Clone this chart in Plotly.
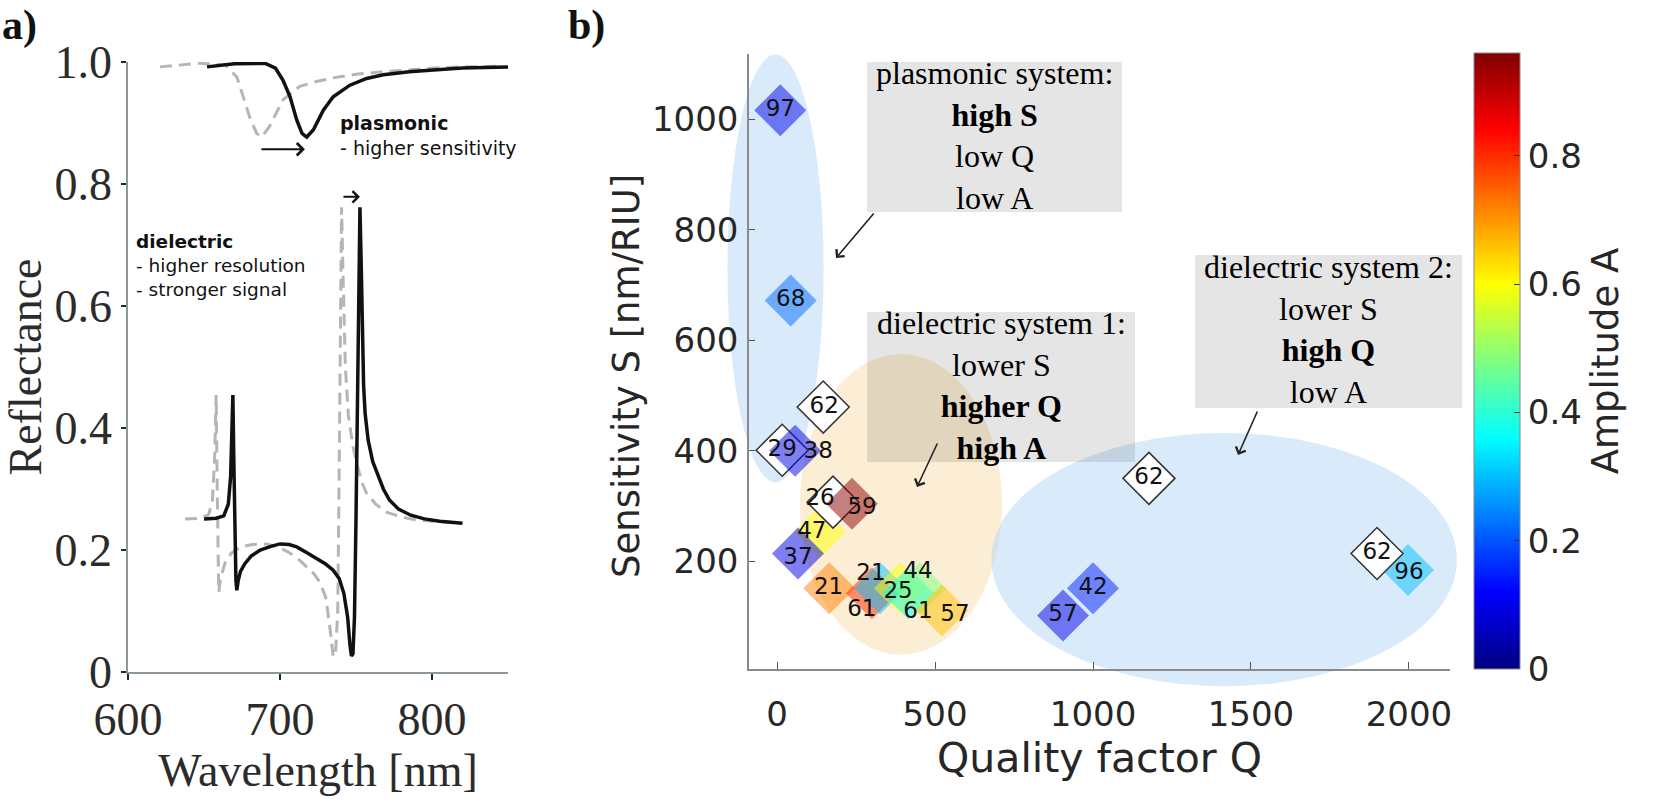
import plotly.graph_objects as go

W, H = 1658, 807

# ---------------- panel a data ----------------
wl_diel_ref = [637.5, 648, 653, 655.5, 657, 658, 658.7, 659.3, 659.7, 661,
               664, 668, 674, 682, 691, 699, 706, 713, 718, 722,
               726, 730, 732.5, 734, 735, 736.5, 738, 739, 740, 740.5,
               741.5, 743, 745, 748, 750.5, 754, 757, 763, 770, 780,
               790, 805, 820]
R_diel_ref = [0.251, 0.252, 0.258, 0.28, 0.35, 0.454, 0.30, 0.18, 0.131, 0.155,
              0.180, 0.195, 0.205, 0.209, 0.210, 0.205, 0.196, 0.183, 0.172, 0.162,
              0.148, 0.123, 0.08, 0.04, 0.025, 0.03, 0.10, 0.35, 0.65, 0.762,
              0.65, 0.50, 0.42, 0.37, 0.342, 0.31, 0.293, 0.275, 0.262, 0.254,
              0.249, 0.246, 0.244]

wl_diel_shift = [650, 658, 663, 666, 667.5, 668.5, 669, 669.6, 670.3, 671,
                 671.6, 672.5, 674, 677, 681, 687, 694, 700, 706, 711,
                 718, 724, 730, 735, 739, 742, 744.5, 746, 747, 748,
                 749, 750, 751, 752, 752.6, 753.5, 755, 756, 758, 761,
                 764, 768, 772, 778, 786, 795, 805, 820]
R_diel_shift = [0.251, 0.252, 0.256, 0.275, 0.32, 0.40, 0.454, 0.35, 0.22, 0.15,
                0.134, 0.15, 0.165, 0.178, 0.19, 0.200, 0.206, 0.210, 0.209, 0.205,
                0.195, 0.186, 0.177, 0.167, 0.153, 0.129, 0.09, 0.045, 0.026, 0.03,
                0.09, 0.25, 0.50, 0.70, 0.762, 0.66, 0.47, 0.424, 0.38, 0.345,
                0.326, 0.30, 0.282, 0.267, 0.257, 0.251, 0.247, 0.244]

wl_plas_ref = [621, 635, 647, 664, 671.7, 675.8, 680, 684.6, 688, 693,
               698, 702, 713, 724, 735, 750, 768, 785, 801, 820, 845]
R_plas_ref = [0.992, 0.995, 0.998, 0.995, 0.975, 0.943, 0.910, 0.883, 0.877, 0.894,
              0.918, 0.938, 0.960, 0.968, 0.974, 0.980, 0.984, 0.987, 0.990, 0.992, 0.993]

wl_plas_shift = [652, 670, 690, 697, 702, 706.6, 711, 714.5, 717.6, 722,
                 728.5, 735, 746, 757, 768, 785, 801, 820, 850]
R_plas_shift = [0.992, 0.997, 0.998, 0.99, 0.970, 0.943, 0.905, 0.883, 0.877, 0.889,
                0.921, 0.943, 0.962, 0.973, 0.979, 0.984, 0.987, 0.990, 0.992]

a_xticks = [600, 700, 800]
a_yticks = [0, 0.2, 0.4, 0.6, 0.8, 1.0]
a_yticklabels = ["0", "0.2", "0.4", "0.6", "0.8", "1.0"]

# ---------------- panel b data ----------------
Q_col = [10, 43, 57, 237, 136, 66, 165, 300, 326, 389, 415, 452, 522, 1000, 905, 1997]
S_col = [1016, 672, 400, 304, 253, 214, 151, 142, 151, 151, 142, 151, 111, 151, 102, 184]
A_col = [0.10, 0.22, 0.10, 0.95, 0.60, 0.10, 0.72, 0.80, 0.30, 0.60, 0.36, 0.48, 0.66, 0.15, 0.10, 0.30]
lab_col = ["97", "68", "38", "59", "47", "37", "21", "61", "21", "25", "61", "44", "57", "42", "57", "96"]
labQ_col = [10, 43, 130, 269, 110, 66, 163, 268, 297, 383, 446, 446, 563, 1000, 905, 2000]
labS_col = [1016, 672, 398, 296, 253, 205, 151, 111, 176, 144, 108, 180, 102, 151, 102, 178]
on_top_idx = [2, 3]  # the "38" and "59" diamonds sit above the white diamonds

Q_white = [146, 16, 177, 1177, 1899]
S_white = [479, 401, 307, 350, 214]
lab_white = ["62", "29", "26", "62", "62"]
labQ_white = [149, 16, 136, 1177, 1899]
labS_white = [479, 401, 312, 350, 214]

b_xticks = [0, 500, 1000, 1500, 2000]
b_yticks = [200, 400, 600, 800, 1000]
cbar_ticks = [0, 0.2, 0.4, 0.6, 0.8]
cbar_ticklabels = ["0", "0.2", "0.4", "0.6", "0.8"]

# ellipses (data units): Q0, Q1, S0, S1
ell_plasmonic = (-157, 147, 343, 1117)
ell_diel1 = (72, 712, 31, 575)
ell_diel2 = (678, 2152, -26, 432)

box_texts = [
    "plasmonic system:<br><b>high S</b><br>low Q<br>low A",
    "dielectric system 1:<br>lower S<br><b>higher Q</b><br><b>high A</b>",
    "dielectric system 2:<br>lower S<br><b>high Q</b><br>low A",
]

# ---------------- layout geometry (pixels) ----------------
A_X0, A_X1, A_Y0, A_Y1 = 128, 508, 62, 672
B_X0, B_X1, B_Y0, B_Y1 = 749, 1450, 54, 669
a_xrange = [600, 850]
a_yrange = [0, 1.0]
b_xrange = [-89, 2130]
b_yrange = [5, 1118]


def px(x):
    return x / W


def py(y):
    return 1 - y / H


bx_dom = [px(B_X0), px(B_X1)]
by_dom = [py(B_Y1), py(B_Y0)]


def q2paper(q):
    return bx_dom[0] + (q - b_xrange[0]) / (b_xrange[1] - b_xrange[0]) * (bx_dom[1] - bx_dom[0])


def s2paper(s):
    return by_dom[0] + (s - b_yrange[0]) / (b_yrange[1] - b_yrange[0]) * (by_dom[1] - by_dom[0])


jet = [[0, "rgb(0,0,128)"], [0.125, "rgb(0,0,255)"], [0.375, "rgb(0,255,255)"],
       [0.625, "rgb(255,255,0)"], [0.875, "rgb(255,0,0)"], [1, "rgb(128,0,0)"]]

SERIF = "Liberation Serif"
SANS = "DejaVu Sans"

fig = go.Figure()

# ---- panel a traces ----
for wl, R in [(wl_plas_ref, R_plas_ref), (wl_diel_ref, R_diel_ref)]:
    fig.add_trace(go.Scatter(x=wl, y=R, mode="lines",
                             line=dict(color="#b5b5b5", width=3, dash="12px,7px"),
                             xaxis="x", yaxis="y", showlegend=False, hoverinfo="skip"))
for wl, R in [(wl_plas_shift, R_plas_shift), (wl_diel_shift, R_diel_shift)]:
    fig.add_trace(go.Scatter(x=wl, y=R, mode="lines",
                             line=dict(color="#111111", width=3.5),
                             xaxis="x", yaxis="y", showlegend=False, hoverinfo="skip"))

# ---- panel b traces ----
low_idx = [i for i in range(len(lab_col)) if i not in on_top_idx]


def col_trace(idx):
    return go.Scatter(
        x=[Q_col[i] for i in idx], y=[S_col[i] for i in idx], mode="markers",
        marker=dict(symbol="diamond", size=40, color=[A_col[i] for i in idx],
                    coloraxis="coloraxis", opacity=0.5, line=dict(width=0)),
        xaxis="x2", yaxis="y2", showlegend=False, hoverinfo="skip", cliponaxis=False)


fig.add_trace(col_trace(low_idx))
fig.add_trace(go.Scatter(
    x=Q_white, y=S_white, mode="markers",
    marker=dict(symbol="diamond", size=40, color="white", line=dict(color="#333333", width=1.5)),
    xaxis="x2", yaxis="y2", showlegend=False, hoverinfo="skip", cliponaxis=False))
fig.add_trace(col_trace(on_top_idx))
fig.add_trace(go.Scatter(
    x=labQ_col + labQ_white, y=labS_col + labS_white, mode="text",
    text=lab_col + lab_white, textposition="middle center",
    textfont=dict(family=SANS, size=23, color="#111111"),
    xaxis="x2", yaxis="y2", showlegend=False, hoverinfo="skip", cliponaxis=False))

# ---- shapes: ellipses and boxes ----
shapes = []
for (q0, q1, s0, s1), fill in [(ell_plasmonic, "rgba(179,213,247,0.5)"),
                               (ell_diel1, "rgba(249,221,169,0.5)"),
                               (ell_diel2, "rgba(179,213,247,0.5)")]:
    shapes.append(dict(type="circle", xref="paper", yref="paper",
                       x0=q2paper(q0), x1=q2paper(q1), y0=s2paper(s0), y1=s2paper(s1),
                       fillcolor=fill, line=dict(width=0), layer="below"))

boxes_px = [(867, 62, 1122, 212), (867, 312, 1135, 462), (1195, 255, 1462, 408)]
for (x0, y0, x1, y1) in boxes_px:
    shapes.append(dict(type="rect", xref="paper", yref="paper",
                       x0=px(x0), x1=px(x1), y0=py(y1), y1=py(y0),
                       fillcolor="rgba(0,0,0,0.10)", line=dict(width=0), layer="below"))

annotations = []
for (x0, y0, x1, y1), t in zip(boxes_px, box_texts):
    annotations.append(dict(xref="paper", yref="paper", x=px((x0 + x1) / 2), y=py((y0 + y1) / 2 - 2),
                            text=t, showarrow=False, align="center",
                            xanchor="center", yanchor="middle",
                            font=dict(family=SERIF, size=32, color="#000000")))

# arrows in panel b: head position (px) and tail offset (px)
arrows_b = [((836, 258), (39, -46)), ((917, 487), (21, -45)), ((1238, 455), (20, -45))]
for (hx, hy), (dx, dy) in arrows_b:
    annotations.append(dict(xref="paper", yref="paper", x=px(hx), y=py(hy), ax=dx, ay=dy,
                            axref="pixel", ayref="pixel", text="", showarrow=True,
                            arrowhead=4, arrowsize=1.3, arrowwidth=1.6, arrowcolor="#222222",
                            standoff=0, startstandoff=0))

# y-axis title of panel b
annotations.append(dict(xref="paper", yref="paper", x=px(626), y=py(376), textangle=-90,
                        xanchor="center", yanchor="middle", showarrow=False,
                        text="Sensitivity S [nm/RIU]",
                        font=dict(family=SANS, size=37, color="#262626")))

# panel a texts and arrows
annotations.append(dict(xref="x", yref="y", x=738, y=0.8795, xanchor="left", yanchor="middle",
                        text="<b>plasmonic</b><br>- higher sensitivity", showarrow=False, align="left",
                        font=dict(family=SANS, size=19, color="#111111")))
annotations.append(dict(xref="x", yref="y", x=604, y=0.6656, xanchor="left", yanchor="middle",
                        text="<b>dielectric</b><br>- higher resolution<br>- stronger signal",
                        showarrow=False, align="left",
                        font=dict(family=SANS, size=18.5, color="#111111")))
annotations.append(dict(xref="x", yref="y", x=716.4, y=0.857, ax=-45, ay=0,
                        axref="pixel", ayref="pixel", text="", showarrow=True,
                        arrowhead=4, arrowsize=1.2, arrowwidth=2, arrowcolor="#111111", standoff=0))
annotations.append(dict(xref="x", yref="y", x=752.6, y=0.779, ax=-18, ay=0,
                        axref="pixel", ayref="pixel", text="", showarrow=True,
                        arrowhead=4, arrowsize=1.1, arrowwidth=2, arrowcolor="#111111", standoff=0))

# panel labels
annotations.append(dict(xref="paper", yref="paper", x=0, y=1.0, xanchor="left", yanchor="top",
                        text="<b>a)</b>", showarrow=False,
                        font=dict(family=SERIF, size=42, color="#111111")))
annotations.append(dict(xref="paper", yref="paper", x=px(566), y=1.0, xanchor="left", yanchor="top",
                        text="<b>b)</b>", showarrow=False,
                        font=dict(family=SERIF, size=42, color="#111111")))

fig.update_layout(
    width=W, height=H,
    margin=dict(l=0, r=0, t=0, b=0),
    paper_bgcolor="white", plot_bgcolor="rgba(0,0,0,0)",
    showlegend=False,
    shapes=shapes, annotations=annotations,
    xaxis=dict(domain=[px(A_X0), px(A_X1)], range=a_xrange, anchor="y",
               tickvals=a_xticks, ticks="outside", ticklen=6, tickwidth=2, tickcolor="#1f2d2a",
               showline=True, linecolor="#8c9894", linewidth=1.5, showgrid=False, zeroline=False,
               tickfont=dict(family=SERIF, size=46, color="#2b2b2b"),
               title=dict(text="Wavelength [nm]", font=dict(family=SERIF, size=46, color="#2b2b2b"),
                          standoff=0),
               automargin=False),
    yaxis=dict(domain=[py(A_Y1), py(A_Y0)], range=a_yrange, anchor="x",
               tickvals=a_yticks, ticktext=a_yticklabels, ticks="outside", ticklen=5, tickwidth=2,
               tickcolor="#1f2d2a",
               showline=True, linecolor="#8c9894", linewidth=1.5, showgrid=False, zeroline=False,
               tickfont=dict(family=SERIF, size=46, color="#2b2b2b"),
               title=dict(text="Reflectance", font=dict(family=SERIF, size=46, color="#2b2b2b"),
                          standoff=8),
               automargin=False),
    xaxis2=dict(domain=bx_dom, range=b_xrange, anchor="y2",
                tickvals=b_xticks, ticks="inside", ticklen=7, tickwidth=1, tickcolor="#555555",
                showline=True, linecolor="#8a8a8a", linewidth=1.5, showgrid=False, zeroline=False,
                tickfont=dict(family=SANS, size=34, color="#262626"), ticklabelstandoff=14,
                title=dict(text="Quality factor Q", font=dict(family=SANS, size=41, color="#262626"),
                           standoff=8),
                automargin=False),
    yaxis2=dict(domain=by_dom, range=b_yrange, anchor="x2",
                tickvals=b_yticks, ticks="inside", ticklen=6, tickwidth=1, tickcolor="#555555",
                showline=True, linecolor="#8a8a8a", linewidth=1.5, showgrid=False, zeroline=False,
                tickfont=dict(family=SANS, size=34, color="#262626"), ticklabelstandoff=2,
                automargin=False),
    coloraxis=dict(
        colorscale=jet, cmin=0, cmax=0.96,
        colorbar=dict(x=px(1474), xanchor="left", y=py(361), yanchor="middle",
                      len=616 / H, lenmode="fraction", thickness=46, xpad=0, ypad=0,
                      outlinewidth=1, outlinecolor="#888888",
                      ticks="inside", ticklen=6, tickcolor="#333333",
                      tickvals=cbar_ticks, ticktext=cbar_ticklabels,
                      tickfont=dict(family=SANS, size=34, color="#262626"),
                      title=dict(text="Amplitude A", side="right",
                                 font=dict(family=SANS, size=37, color="#262626"))),
    ),
)

fig.write_html("out.html", config={"displayModeBar": False},
               post_script="document.body.style.margin='0';document.body.style.overflow='hidden';")
